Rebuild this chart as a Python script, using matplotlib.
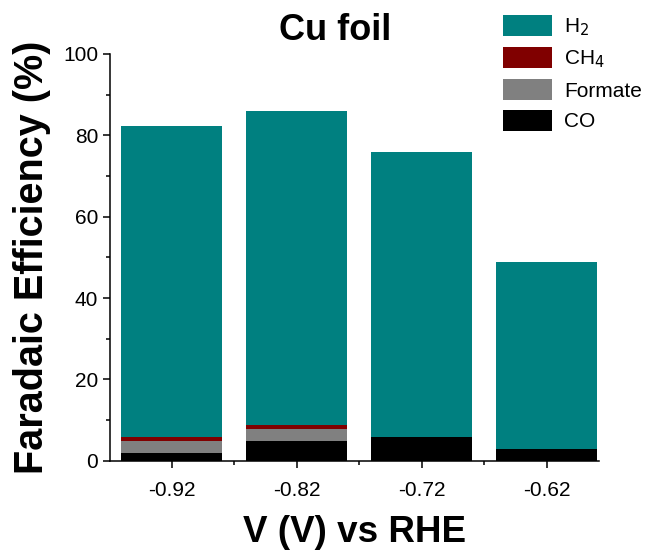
import numpy as np
import matplotlib.pyplot as plt
from matplotlib.ticker import MultipleLocator, FixedLocator

plt.rcParams['font.family'] = ['Liberation Sans', 'DejaVu Sans']

potentials = ["-0.92", "-0.82", "-0.72", "-0.62"]
co = np.array([2.0, 4.8, 5.8, 2.8])
formate = np.array([2.9, 2.95, 0.0, 0.0])
ch4 = np.array([1.0, 1.05, 0.0, 0.0])
total = np.array([82.3, 86.0, 76.0, 48.9])
h2 = total - co - formate - ch4

fig = plt.figure(figsize=(6.5, 5.54), dpi=100)
ax = fig.add_axes([110/650, 1 - 460.7/554, (599-110)/650, (460.7-54)/554])

x = np.arange(len(potentials))
w = 0.81
b1 = ax.bar(x, co, w, color="#000000", label="CO")
b2 = ax.bar(x, formate, w, bottom=co, color="#808080", label="Formate")
b3 = ax.bar(x, ch4, w, bottom=co + formate, color="#800000", label="CH$_4$")
b4 = ax.bar(x, h2, w, bottom=co + formate + ch4, color="#008080", label="H$_2$")

ax.set_xlim(-0.494, 3.42)
ax.set_ylim(0, 100)
ax.set_xticks(x)
ax.set_xticklabels(potentials)
ax.xaxis.set_minor_locator(FixedLocator([-0.5, 0.5, 1.5, 2.5]))
ax.yaxis.set_major_locator(MultipleLocator(20))
ax.yaxis.set_minor_locator(MultipleLocator(10))
ax.tick_params(which="major", direction="out", length=5, width=1.1, labelsize=15)
ax.tick_params(which="minor", direction="out", length=3, width=1.1)
ax.tick_params(axis="x", which="major", pad=9.5)
for s in ["top", "right"]:
    ax.spines[s].set_visible(False)
for s in ["left", "bottom"]:
    ax.spines[s].set_linewidth(1.1)

ax.set_ylabel("Faradaic Efficiency (%)", fontsize=28.5, fontweight="bold", labelpad=9)
ax.set_xlabel("V (V) vs RHE", fontsize=26.5, fontweight="bold", labelpad=11)
fig.text(335/650, 1 - 31/554, "Cu foil", fontsize=26, fontweight="bold",
         ha="center", va="center")

fig.legend(handles=[b4, b3, b2, b1], loc="upper left",
           bbox_to_anchor=(503/650, 1 - 15/554), frameon=False, fontsize=15,
           handlelength=2.35, handleheight=1.2, labelspacing=0.42,
           handletextpad=0.6, borderpad=0, borderaxespad=0)

fig.savefig("out.png", dpi=100)
